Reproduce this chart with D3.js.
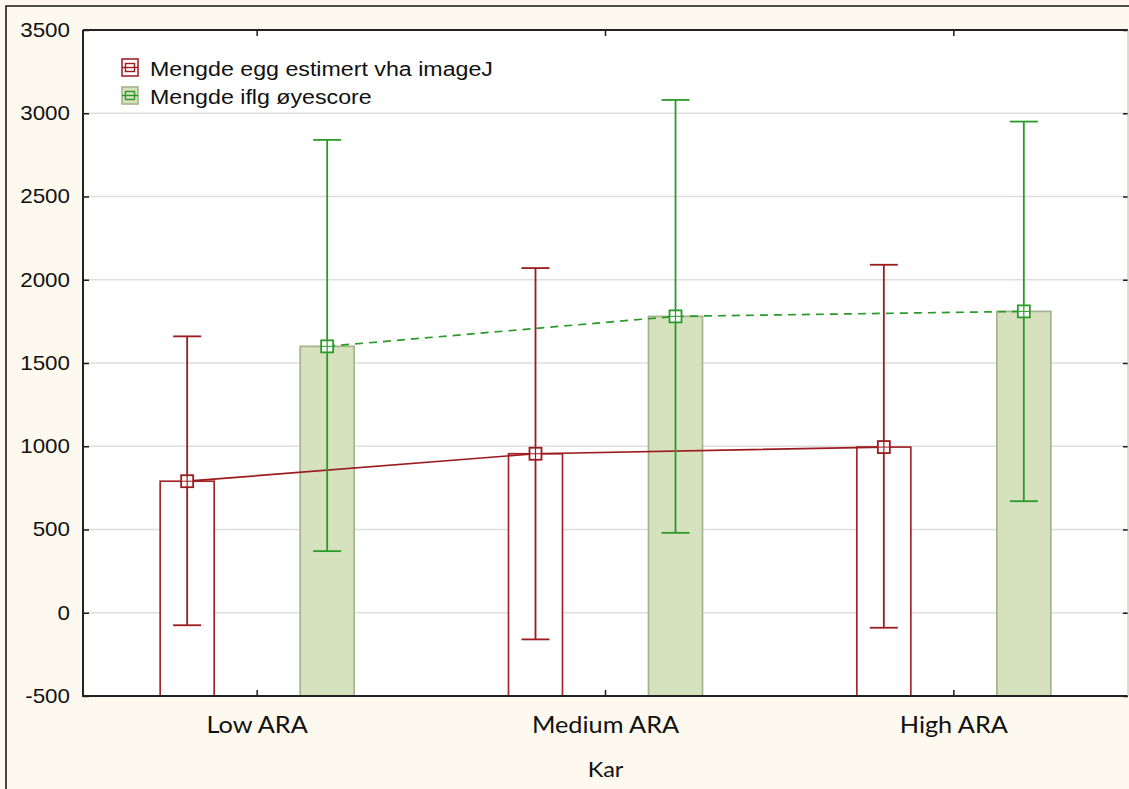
<!DOCTYPE html>
<html>
<head>
<meta charset="utf-8">
<script src="https://cdn.jsdelivr.net/npm/d3@7"></script>
<style>
  html, body { margin: 0; padding: 0; background: #fdf9ee; }
  svg { display: block; }
</style>
</head>
<body>
<svg id="chart" width="1129" height="789"></svg>
<script>
// Groups along the x axis
const categories = ["Low ARA", "Medium ARA", "High ARA"];

// Mean egg counts per group, with the upper and lower whisker ends
const imageJMean  = [790, 955, 995];
const imageJUpper = [1660, 2070, 2090];
const imageJLower = [-75, -160, -90];

const eyeMean  = [1600, 1780, 1810];
const eyeUpper = [2840, 3080, 2950];
const eyeLower = [370, 480, 670];

const yTicks = [-500, 0, 500, 1000, 1500, 2000, 2500, 3000, 3500];

const seriesNames = ["Mengde egg estimert vha imageJ", "Mengde iflg øyescore"];

const series = [
  { name: seriesNames[0], mean: imageJMean, upper: imageJUpper, lower: imageJLower,
    offset: -70, line: "#9b1b1f", barFill: "#ffffff", barStroke: "#a3262a", dash: null },
  { name: seriesNames[1], mean: eyeMean, upper: eyeUpper, lower: eyeLower,
    offset: 70, line: "#2a9a2a", barFill: "#d6e2bd", barStroke: "#a6b38e", dash: "8,6" }
];

const svg = d3.select("#chart");
const W = 1129, H = 789;
const plot = { left: 83, right: 1128, top: 30, bottom: 696 };
const sansFont = "'Liberation Sans', Arial, sans-serif";
const labelFont = "Lato, 'Open Sans', sans-serif";

// Outer frame (top and left edges visible)
svg.append("rect").attr("x", 0).attr("y", 0).attr("width", W).attr("height", H).attr("fill", "#fdf9ee");
svg.append("path")
  .attr("d", `M6,${H} L6,6 L${W},6`)
  .attr("fill", "none").attr("stroke", "#1a1a1a").attr("stroke-width", 1.6);

const x = d3.scaleBand().domain(categories).range([plot.left, plot.right]).padding(0);
const cx = c => x(c) + x.bandwidth() / 2;
const y = d3.scaleLinear().domain([-500, 3500]).range([plot.bottom, plot.top]);

// Plot area
svg.append("rect")
  .attr("x", plot.left).attr("y", plot.top)
  .attr("width", plot.right - plot.left).attr("height", plot.bottom - plot.top)
  .attr("fill", "#ffffff");

// Horizontal grid
svg.append("g").selectAll("line").data(yTicks.slice(1, -1)).join("line")
  .attr("x1", plot.left).attr("x2", plot.right)
  .attr("y1", d => y(d)).attr("y2", d => y(d))
  .attr("stroke", "#dedede").attr("stroke-width", 1.3);

// Bars
const barW = 54;
series.forEach(s => {
  svg.append("g").selectAll("rect").data(categories).join("rect")
    .attr("x", c => cx(c) + s.offset - barW / 2)
    .attr("y", (c, i) => y(s.mean[i]))
    .attr("width", barW)
    .attr("height", (c, i) => y(-500) - y(s.mean[i]))
    .attr("fill", s.barFill)
    .attr("stroke", s.barStroke).attr("stroke-width", 1.7);
});

// Connecting lines
series.forEach(s => {
  const line = d3.line().x((c) => cx(c) + s.offset).y((c, i) => y(s.mean[i]));
  svg.append("path").datum(categories)
    .attr("d", line)
    .attr("fill", "none").attr("stroke", s.line).attr("stroke-width", 1.7)
    .attr("stroke-dasharray", s.dash);
});

// Whiskers and markers
const capW = 28, mk = 12;
series.forEach(s => {
  const g = svg.append("g").attr("stroke", s.line).attr("stroke-width", 1.8).attr("fill", "none");
  categories.forEach((c, i) => {
    const px = cx(c) + s.offset;
    g.append("line").attr("x1", px).attr("x2", px).attr("y1", y(s.upper[i])).attr("y2", y(s.lower[i]));
    g.append("line").attr("x1", px - capW / 2).attr("x2", px + capW / 2).attr("y1", y(s.upper[i])).attr("y2", y(s.upper[i]));
    g.append("line").attr("x1", px - capW / 2).attr("x2", px + capW / 2).attr("y1", y(s.lower[i])).attr("y2", y(s.lower[i]));
    g.append("rect").attr("x", px - mk / 2).attr("y", y(s.mean[i]) - mk / 2)
      .attr("width", mk).attr("height", mk).attr("fill", "#ffffff");
    g.append("line").attr("x1", px).attr("x2", px)
      .attr("y1", y(s.mean[i]) - mk / 2).attr("y2", y(s.mean[i]) + mk / 2).attr("stroke-width", 1.2);
    g.append("line").attr("x1", px - mk / 2).attr("x2", px + mk / 2)
      .attr("y1", y(s.mean[i])).attr("y2", y(s.mean[i])).attr("stroke-width", 1);
  });
});

// Axes
const axisColor = "#1a1a1a";
const ySx = 1.12;
const yAxis = svg.append("g").attr("transform", `translate(${plot.left},0)`)
  .call(d3.axisLeft(y).tickValues(yTicks).tickSize(-6).tickPadding(12).tickFormat(d => String(d)));
yAxis.select(".domain").remove();
yAxis.selectAll("line").attr("stroke", axisColor).attr("stroke-width", 1.5);
yAxis.selectAll("text").attr("font-family", sansFont)
  .attr("font-size", 20).attr("fill", "#111")
  .attr("x", -13 / ySx).attr("transform", `scale(${ySx},1)`);

const yAxisR = svg.append("g").attr("transform", `translate(${plot.right},0)`)
  .call(d3.axisRight(y).tickValues(yTicks).tickSize(-5).tickFormat(""));
yAxisR.select(".domain").remove();
yAxisR.selectAll("line").attr("stroke", axisColor).attr("stroke-width", 1.5);

const xAxis = svg.append("g").attr("transform", `translate(0,${plot.bottom})`)
  .call(d3.axisBottom(x).tickSize(-6).tickPadding(20));
xAxis.select(".domain").remove();
xAxis.selectAll("line").attr("stroke", axisColor).attr("stroke-width", 1.5);
xAxis.selectAll("text").attr("font-family", labelFont)
  .attr("font-size", 23).attr("fill", "#111")
  .attr("y", 21).attr("dy", "0.71em")
  .attr("transform", "scale(1.1,1)");

const xAxisT = svg.append("g").attr("transform", `translate(0,${plot.top})`)
  .call(d3.axisTop(x).tickSize(-6).tickFormat(""));
xAxisT.select(".domain").remove();
xAxisT.selectAll("line").attr("stroke", axisColor).attr("stroke-width", 1.5);

// Plot border
svg.append("path")
  .attr("d", `M${plot.left},${plot.top} L${plot.right},${plot.top} M${plot.left},${plot.top} L${plot.left},${plot.bottom} L${plot.right},${plot.bottom}`)
  .attr("fill", "none").attr("stroke", "#222").attr("stroke-width", 2);
svg.append("line").attr("x1", plot.right).attr("x2", plot.right)
  .attr("y1", plot.top).attr("y2", plot.bottom).attr("stroke", "#bbb").attr("stroke-width", 1);

// Axis title
svg.append("text")
  .attr("transform", `translate(${cx(categories[1])},777) scale(1.12,1)`)
  .attr("text-anchor", "middle")
  .attr("font-family", labelFont).attr("font-size", 21).attr("fill", "#111")
  .text("Kar");

// Legend
const legend = svg.append("g").attr("transform", "translate(122,59)");
series.forEach((s, i) => {
  const g = legend.append("g").attr("transform", `translate(0,${i * 28})`);
  g.append("rect").attr("x", 0).attr("y", 0).attr("width", 16).attr("height", 17)
    .attr("fill", s.barFill).attr("stroke", s.barStroke).attr("stroke-width", 1.6);
  g.append("line").attr("x1", 0).attr("x2", 16).attr("y1", 8.5).attr("y2", 8.5)
    .attr("stroke", s.line).attr("stroke-width", 1.4);
  g.append("rect").attr("x", 3.5).attr("y", 4.5).attr("width", 9).attr("height", 8)
    .attr("fill", "none").attr("stroke", s.line).attr("stroke-width", 1.4);
  g.append("text")
    .attr("transform", "translate(28,16.5) scale(1.19,1)")
    .attr("font-family", sansFont).attr("font-size", 19.5).attr("fill", "#111")
    .text(s.name);
});
</script>
</body>
</html>
